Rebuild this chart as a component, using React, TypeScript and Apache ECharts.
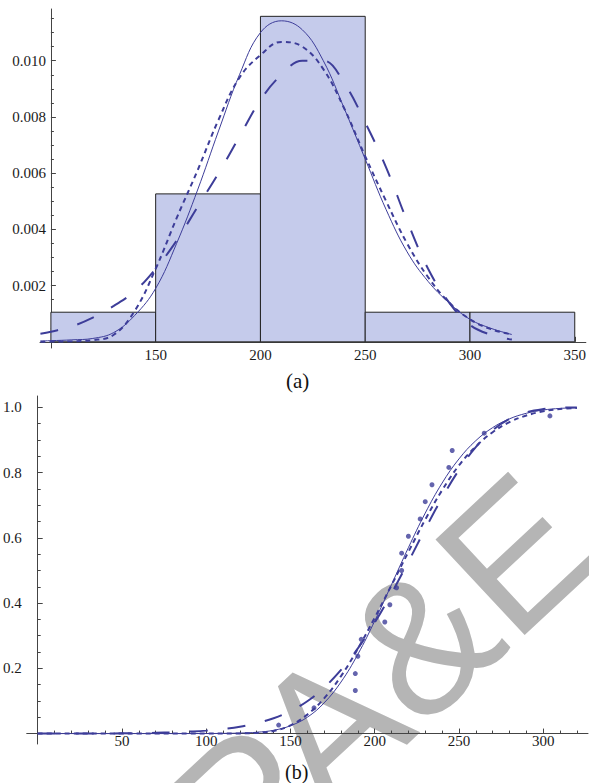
import { useEffect, useRef } from 'react';
import * as echarts from 'echarts';

// ---------- data (a): histogram + fitted densities ----------
const histEdges = [100, 150, 200, 250, 300, 350];
const histDensity = [0.001053, 0.005263, 0.011579, 0.001053, 0.001053];

const pdfX = [95, 100, 110, 120, 130, 140, 150, 160, 170, 180, 190, 200, 210, 220, 230, 240, 250, 260, 270, 280, 290, 300, 310, 320];
const pdfSolid = [0.00003, 0.00004, 0.00007, 0.00012, 0.00033, 0.00094, 0.0019, 0.0035, 0.0054, 0.0075, 0.0095, 0.011, 0.01142, 0.0111, 0.01, 0.0083, 0.0065, 0.0047, 0.0032, 0.00215, 0.00139, 0.0008, 0.00048, 0.00026];
const pdfShortDash = [0, 0.00001, 0.00002, 0.00006, 0.00025, 0.0011, 0.0026, 0.0044, 0.0061, 0.0079, 0.0094, 0.0102, 0.01067, 0.0105, 0.0097, 0.0083, 0.0066, 0.005, 0.0035, 0.0023, 0.0014, 0.0008, 0.00045, 0.00026];
const pdfLongDash = [0.00029, 0.00036, 0.00055, 0.00086, 0.00128, 0.0018, 0.0026, 0.0036, 0.0048, 0.006, 0.0073, 0.0086, 0.0095, 0.01, 0.01, 0.0092, 0.0078, 0.0062, 0.0043, 0.0026, 0.0014, 0.0006, 0.00025, 0.00008];

// ---------- data (b): empirical and fitted CDFs ----------
const cdfX = [0, 10, 20, 30, 40, 50, 60, 70, 80, 90, 100, 110, 120, 130, 140, 150, 160, 170, 180, 190, 200, 210, 220, 230, 240, 250, 260, 270, 280, 290, 300, 310, 320];
const cdfSolid = [0, 0, 0, 0, 0, 0, 0, 0, 0, 0.0001, 0.0002, 0.0005, 0.0015, 0.004, 0.01, 0.024, 0.05, 0.094, 0.158, 0.243, 0.345, 0.457, 0.57, 0.676, 0.768, 0.842, 0.898, 0.938, 0.965, 0.982, 0.992, 0.997, 0.999];
const cdfShortDash = [0, 0, 0, 0, 0, 0, 0, 0, 0, 0, 0, 0.0001, 0.0005, 0.002, 0.008, 0.025, 0.058, 0.108, 0.176, 0.26, 0.355, 0.455, 0.557, 0.656, 0.746, 0.822, 0.88, 0.924, 0.955, 0.975, 0.988, 0.995, 0.998];
const cdfLongDash = [0, 0, 0.00002, 0.0001, 0.0003, 0.0007, 0.0013, 0.0023, 0.0038, 0.006, 0.009, 0.014, 0.021, 0.032, 0.047, 0.069, 0.099, 0.141, 0.195, 0.261, 0.34, 0.43, 0.527, 0.627, 0.723, 0.808, 0.878, 0.93, 0.965, 0.985, 0.995, 0.999, 1.0];

const sampleX = [143, 164, 188.5, 188.5, 190, 192, 206, 209, 213, 216, 216, 220, 227, 230, 234, 244, 246, 265, 304];
const sampleF = [0.026, 0.079, 0.132, 0.184, 0.237, 0.289, 0.342, 0.395, 0.447, 0.5, 0.553, 0.605, 0.658, 0.711, 0.763, 0.816, 0.868, 0.921, 0.974];

// ---------- ticks ----------
const pdfXTicks = [150, 200, 250, 300, 350];
const pdfYTicks = [0.002, 0.004, 0.006, 0.008, 0.01];
const pdfYMinor = [0.0005, 0.001, 0.0015, 0.0025, 0.003, 0.0035, 0.0045, 0.005, 0.0055, 0.0065, 0.007, 0.0075, 0.0085, 0.009, 0.0095, 0.0105, 0.011, 0.0115];
const cdfXTicks = [50, 100, 150, 200, 250, 300];
const cdfXMinor = [10, 20, 30, 40, 60, 70, 80, 90, 110, 120, 130, 140, 160, 170, 180, 190, 210, 220, 230, 240, 260, 270, 280, 290, 310, 320];
const cdfYTicks = [0.2, 0.4, 0.6, 0.8, 1.0];
const cdfYMinor = [0.05, 0.1, 0.15, 0.25, 0.3, 0.35, 0.45, 0.5, 0.55, 0.65, 0.7, 0.75, 0.85, 0.9, 0.95];

const LINE = '#3d3d99';
const AXIS = '#444';
const FONT = '"Liberation Serif", "DejaVu Serif", serif';

function zip(xs: number[], ys: number[]) {
  return xs.map((x, i) => [x, ys[i]]);
}

export default function App() {
  const ref = useRef<HTMLDivElement>(null);
  useEffect(() => {
    if (!ref.current) return;
    const chart = echarts.init(ref.current, undefined, { renderer: 'svg' });
    const axisLine = { show: true, lineStyle: { color: AXIS, width: 1 } };
    const label = (digits: number, margin: number, values: number[]) => ({
      show: true,
      customValues: values,
      formatter: (v: number) => v.toFixed(digits),
      color: '#1a1a1a',
      fontFamily: FONT,
      fontSize: 15,
      margin,
    });
    const tick = (values: number[], len: number) => ({
      show: true,
      inside: true,
      length: len,
      customValues: values,
      lineStyle: { color: AXIS, width: 1 },
    });
    const lineSeries = (
      data: number[][],
      xi: number,
      yi: number,
      width: number,
      type: any
    ) => ({
      type: 'line',
      xAxisIndex: xi,
      yAxisIndex: yi,
      data,
      showSymbol: false,
      smooth: 0.4,
      clip: true,
      z: 5,
      lineStyle: { color: LINE, width, type, cap: 'butt' },
    });

    chart.setOption({
      animation: false,
      grid: [
        { left: 40, top: 9, width: 548, height: 339 },
        { left: 25, top: 396, width: 563, height: 348 },
      ],
      xAxis: [
        {
          gridIndex: 0, type: 'value', min: 94.8, max: 355.3, position: 'bottom',
          axisLine, axisTick: tick(pdfXTicks, 5), axisLabel: label(0, -1, pdfXTicks),
          splitLine: { show: false },
        },
        {
          gridIndex: 1, type: 'value', min: -6.5, max: 326.6, position: 'bottom',
          axisLine, axisTick: tick(cdfXTicks, 5), axisLabel: label(0, -11, cdfXTicks),
          splitLine: { show: false },
        },
        {
          gridIndex: 1, type: 'value', min: -6.5, max: 326.6, position: 'bottom',
          axisLine: { show: false }, axisTick: tick(cdfXMinor, 3), axisLabel: { show: false },
          splitLine: { show: false },
        },
      ],
      yAxis: [
        {
          gridIndex: 0, type: 'value', min: -0.00022, max: 0.01184, offset: -10.9, position: 'left',
          axisLine, axisTick: tick(pdfYTicks, 5), axisLabel: label(3, 5, pdfYTicks),
          splitLine: { show: false },
        },
        {
          gridIndex: 0, type: 'value', min: -0.00022, max: 0.01184, offset: -10.9, position: 'left',
          axisLine: { show: false }, axisTick: tick(pdfYMinor, 3), axisLabel: { show: false },
          splitLine: { show: false },
        },
        {
          gridIndex: 1, type: 'value', min: -0.032, max: 1.035, position: 'left',
          axisLine, axisTick: tick(cdfYTicks, 5), axisLabel: label(1, 5, cdfYTicks),
          splitLine: { show: false },
        },
        {
          gridIndex: 1, type: 'value', min: -0.032, max: 1.035, position: 'left',
          axisLine: { show: false }, axisTick: tick(cdfYMinor, 3), axisLabel: { show: false },
          splitLine: { show: false },
        },
      ],
      graphic: [
        {
          type: 'text', left: 286, top: 370, z: 10,
          style: { text: '(a)', font: `21px ${FONT}`, fill: '#111' },
        },
        {
          type: 'text', left: 285, top: 762, z: 10,
          style: { text: '(b)', font: `20px ${FONT}`, fill: '#111' },
        },
        {
          type: 'text', x: 561, y: 511, rotation: 0.75, z: -10, silent: true,
          style: {
            text: 'PA&E', font: `190px "Liberation Sans", sans-serif`, fill: '#b5b5b5',
            align: 'right', verticalAlign: 'middle',
          },
        },
      ],
      series: [
        {
          type: 'custom',
          xAxisIndex: 0,
          yAxisIndex: 0,
          z: 2,
          data: histDensity.map((d, i) => [histEdges[i], histEdges[i + 1], d]),
          encode: { x: [0, 1], y: 2 },
          renderItem: (params: any, api: any) => {
            const p0 = api.coord([api.value(0), api.value(2)]);
            const p1 = api.coord([api.value(1), 0]);
            return {
              type: 'rect',
              shape: { x: p0[0], y: p0[1], width: p1[0] - p0[0], height: p1[1] - p0[1] },
              style: { fill: '#c5cbeb', stroke: '#222', lineWidth: 1 },
            };
          },
        },
        lineSeries(zip(pdfX, pdfSolid), 0, 0, 1, 'solid'),
        lineSeries(zip(pdfX, pdfShortDash), 0, 0, 2, [5, 4]),
        lineSeries(zip(pdfX, pdfLongDash), 0, 0, 2, [18, 20]),
        lineSeries(zip(cdfX, cdfSolid), 1, 2, 1, 'solid'),
        lineSeries(zip(cdfX, cdfShortDash), 1, 2, 2, [5, 4]),
        lineSeries(zip(cdfX, cdfLongDash), 1, 2, 2, [18, 20]),
        {
          type: 'scatter',
          xAxisIndex: 1,
          yAxisIndex: 2,
          z: 6,
          symbol: 'circle',
          symbolSize: 5,
          itemStyle: { color: LINE },
          data: zip(sampleX, sampleF),
        },
      ],
    });
    return () => chart.dispose();
  }, []);
  return (
    <div
      ref={ref}
      style={{ position: 'fixed', left: 0, top: 0, width: 589, height: 783, background: '#fff' }}
    />
  );
}
